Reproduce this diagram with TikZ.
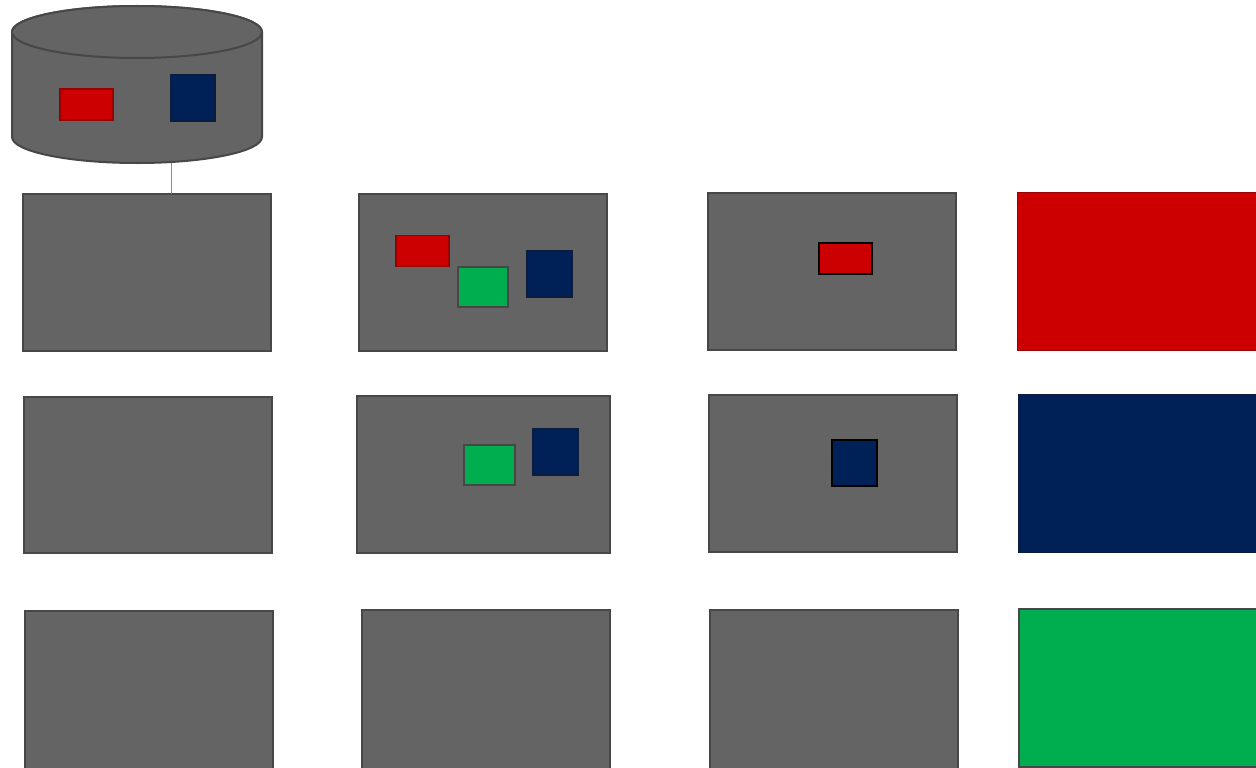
\documentclass[tikz,border=0pt]{standalone}
\begin{document}
\begin{tikzpicture}[x=1pt,y=-1pt,
  every node/.style={inner sep=0pt,outer sep=0pt,rectangle},
  gbox/.style={fill=cgray,draw=cgraystroke,line width=2pt},
  redbox/.style={fill=cred,draw=credstroke,line width=1.5pt},
  navybox/.style={fill=cnavy,draw=cnavystroke,line width=1.5pt},
  greenbox/.style={fill=cgreen,draw=cgraystroke,line width=2pt},
  blk/.style={draw=black,line width=2pt},
  link/.style={draw=clink,line width=1pt}]
\definecolor{cgray}{HTML}{646464}
\definecolor{cgraystroke}{HTML}{474747}
\definecolor{cred}{HTML}{CC0000}
\definecolor{credstroke}{HTML}{990000}
\definecolor{cnavy}{HTML}{002157}
\definecolor{cnavystroke}{HTML}{0C1C3C}
\definecolor{cgreen}{HTML}{00AE50}
\definecolor{clink}{HTML}{8A8A8A}
\clip (0,0) rectangle (1256,768);
\fill[white] (0,0) rectangle (1256,768);
% cylinder
\draw[gbox] (12,32) -- (12,137) arc[start angle=180,end angle=360,x radius=125pt,y radius=26pt]
  -- (262,32) arc[start angle=0,end angle=180,x radius=125pt,y radius=26pt] -- cycle;
\draw[gbox] (137,32) ellipse[x radius=125pt,y radius=26pt];
\node[redbox,minimum width=53pt,minimum height=31pt] (cr) at (86.5,104.5) {};
\node[navybox,minimum width=44pt,minimum height=46pt] (cn) at (193,98) {};
\coordinate (cylbot) at (171,163);
% row 1
\node[gbox,minimum width=248pt,minimum height=157pt] (a1) at (147,272.5) {};
\node[gbox,minimum width=248pt,minimum height=157pt] (b1) at (483,272.5) {};
\node[redbox,minimum width=53pt,minimum height=31pt] (b1r) at (422.5,251) {};
\node[greenbox,minimum width=50pt,minimum height=40pt] (b1g) at (483,287) {};
\node[navybox,minimum width=45pt,minimum height=46pt] (b1n) at (549.5,274) {};
\node[gbox,minimum width=248pt,minimum height=157pt] (c1) at (832,271.5) {};
\node[fill=cred,blk,minimum width=53pt,minimum height=31pt] (c1r) at (845.5,258.5) {};
\node[fill=cred,draw=credstroke,line width=1pt,minimum width=260pt,minimum height=158pt] (d1) at (1147,271) {};
% row 2
\node[gbox,minimum width=248pt,minimum height=156pt] (a2) at (148,475) {};
\node[gbox,minimum width=253pt,minimum height=157pt] (b2) at (483.5,474.5) {};
\node[greenbox,minimum width=51pt,minimum height=40pt] (b2g) at (489.5,465) {};
\node[navybox,minimum width=45pt,minimum height=46pt] (b2n) at (555.5,452) {};
\node[gbox,minimum width=248pt,minimum height=157pt] (c2) at (833,473.5) {};
\node[fill=cnavy,blk,minimum width=45pt,minimum height=46pt] (c2n) at (854.5,463) {};
\node[fill=cnavy,draw=cnavystroke,line width=1pt,minimum width=260pt,minimum height=158pt] (d2) at (1148,473) {};
% row 3
\node[gbox,minimum width=248pt,minimum height=160pt] (a3) at (149,691) {};
\node[gbox,minimum width=248pt,minimum height=160pt] (b3) at (486,690) {};
\node[gbox,minimum width=248pt,minimum height=160pt] (c3) at (834,690) {};
\node[greenbox,minimum width=260pt,minimum height=158pt] (d3) at (1149,688) {};
% connector
\draw[link] (cylbot) -- (cylbot |- a1.north);
\end{tikzpicture}
\end{document}
